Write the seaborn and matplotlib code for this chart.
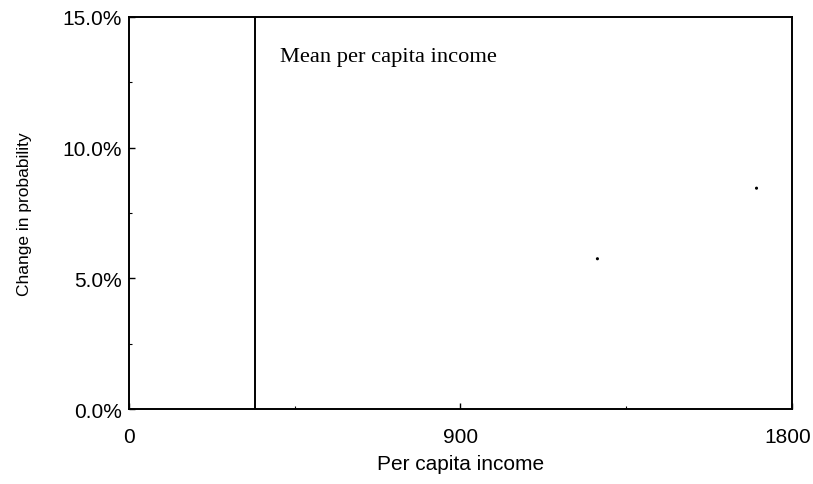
import matplotlib
matplotlib.use("Agg")
import matplotlib.pyplot as plt
import matplotlib.transforms as mtransforms
import seaborn as sns
import pandas as pd
from matplotlib.ticker import FixedLocator, FuncFormatter

sns.set_theme(style="white")
plt.rcParams['font.family'] = ['Liberation Sans', 'DejaVu Sans']

# Data
income = [1272, 1704]
change_pct = [5.75, 8.45]
mean_income = 342
x_ticks = [0, 900, 1800]
y_ticks = [0, 5, 10, 15]
annotation = "Mean per capita income"

df = pd.DataFrame({"income": income, "change": change_pct})

fig = plt.figure(figsize=(8.13, 4.85), dpi=100)
ax = fig.add_axes([0.1587, 0.1546, 0.974 - 0.1587, 0.9629 - 0.1546])

sns.scatterplot(data=df, x="income", y="change", ax=ax, color="black",
                s=5, marker="o", edgecolor="none", legend=False)
ax.axvline(mean_income, color="black", lw=1.4)
ax.text(410, 13.85, annotation, family=['Liberation Serif'], fontsize=16.2,
        ha="left", va="top", color="black")

ax.set_xlim(0, 1800)
ax.set_ylim(0, 15)
ax.xaxis.set_major_locator(FixedLocator(x_ticks))
ax.yaxis.set_major_locator(FixedLocator(y_ticks))
ax.xaxis.set_minor_locator(FixedLocator([450, 1350]))
ax.yaxis.set_minor_locator(FixedLocator([2.5, 7.5, 12.5]))
ax.yaxis.set_major_formatter(FuncFormatter(lambda v, p: f"{v:.1f}%"))
ax.tick_params(axis="both", which="major", direction="in", length=4, width=1,
               color="black", labelsize=15, labelcolor="black", bottom=True, left=True)
ax.tick_params(axis="y", which="major", pad=5)
ax.tick_params(axis="x", which="major", pad=13)
ax.tick_params(axis="both", which="minor", direction="in", length=2, width=0.8,
               color="black", bottom=True, left=True)

for s in ax.spines.values():
    s.set_visible(True)
    s.set_color("black")
    s.set_linewidth(1.4)

ax.set_xlabel("Per capita income", fontsize=15, color="black", labelpad=6)
ax.set_ylabel("Change in probability", fontsize=12.5, color="black", labelpad=22)

# keep the last x tick label inside the figure
fig.canvas.draw()
last = ax.get_xticklabels()[-1]
last.set_transform(last.get_transform() +
                   mtransforms.ScaledTranslation(-4 / 100, 0, fig.dpi_scale_trans))

fig.savefig("out.png", dpi=100, facecolor="white")
